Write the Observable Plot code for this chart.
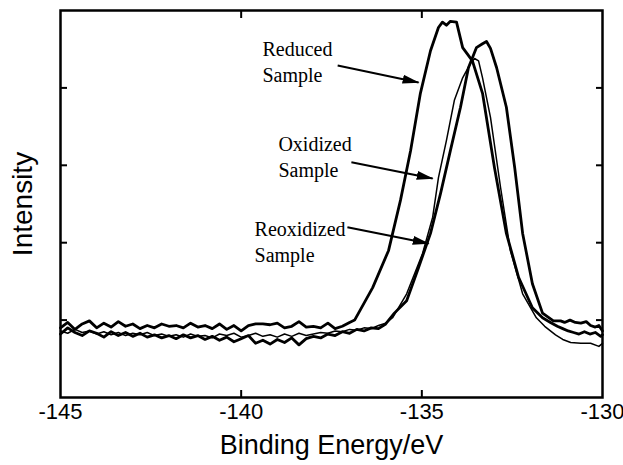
<!DOCTYPE html>
<html>
<head>
<meta charset="utf-8">
<script src="https://cdn.jsdelivr.net/npm/d3@7"></script>
<script src="https://cdn.jsdelivr.net/npm/@observablehq/plot@0.6"></script>
<style>
  html, body { margin: 0; padding: 0; background: #fff; }
  #chart { width: 623px; height: 465px; }
</style>
</head>
<body>
<div id="chart"></div>
<script>
// ---- Data (binding energy in eV, intensity in arbitrary units) ----
const xTicks = [-145, -140, -135, -130];
const xInnerTicks = [-140, -135];
const yTicks = [1, 2, 3, 4];

const reducedE = [
  -145.0, -144.8, -144.6, -144.4, -144.2, -144.0, -143.8, -143.6, -143.4, -143.2,
  -143.0, -142.8, -142.6, -142.4, -142.2, -142.0, -141.8, -141.6, -141.4, -141.2,
  -141.0, -140.8, -140.6, -140.4, -140.2, -140.0, -139.8, -139.6, -139.4, -139.2,
  -139.0, -138.8, -138.6, -138.4, -138.2, -138.0, -137.8, -137.6, -137.4, -137.2,
  -137.0, -136.86, -136.36, -135.92, -135.59, -135.31, -135.04, -134.76, -134.54, -134.43,
  -134.32, -134.21, -134.04, -133.87, -133.60, -133.32, -132.99, -132.66, -132.32, -131.94,
  -131.66, -131.44, -131.25, -131.1, -130.95, -130.8, -130.65, -130.5, -130.35, -130.2,
  -130.05, -130.0
];
const reducedI = [
  0.90, 0.97, 0.88, 0.95, 0.99, 0.90, 0.96, 0.91, 0.98, 0.92,
  0.95, 0.89, 0.93, 0.90, 0.95, 0.92, 0.93, 0.90, 0.96, 0.91,
  0.93, 0.89, 0.95, 0.88, 0.93, 0.86, 0.93, 0.95, 0.95, 0.94,
  0.96, 0.90, 0.92, 0.98, 0.91, 0.92, 0.90, 0.96, 0.89, 0.92,
  0.97, 1.00, 1.42, 1.90, 2.55, 3.19, 3.93, 4.48, 4.78, 4.85,
  4.81, 4.86, 4.85, 4.52, 4.35, 3.93, 2.97, 2.12, 1.55, 1.16,
  1.03, 0.97, 0.92, 0.89, 0.86, 0.84, 0.82, 0.85, 0.82, 0.84,
  0.79, 0.81
];

const oxidizedE = [
  -145.0, -144.8, -144.6, -144.4, -144.2, -144.0, -143.8, -143.6, -143.4, -143.2,
  -143.0, -142.8, -142.6, -142.4, -142.2, -142.0, -141.8, -141.6, -141.4, -141.2,
  -141.0, -140.8, -140.6, -140.4, -140.2, -140.0, -139.8, -139.6, -139.4, -139.2,
  -139.0, -138.8, -138.6, -138.4, -138.2, -138.0, -137.8, -137.6, -137.4, -137.2,
  -137.0, -136.8, -136.6, -136.4, -136.2, -136.0, -135.81, -135.42, -134.98, -134.70,
  -134.54, -134.32, -134.10, -133.87, -133.65, -133.54, -133.43, -133.32, -133.10, -132.82,
  -132.55, -132.21, -131.83, -131.6, -131.3, -131.1, -130.88, -130.6, -130.33, -130.1,
  -130.0
];
const oxidizedI = [
  0.86, 0.83, 0.88, 0.84, 0.86, 0.82, 0.85, 0.81, 0.84, 0.80,
  0.83, 0.81, 0.84, 0.80, 0.82, 0.79, 0.81, 0.78, 0.82, 0.79,
  0.80, 0.77, 0.82, 0.80, 0.83, 0.78, 0.80, 0.83, 0.79, 0.81,
  0.78, 0.82, 0.79, 0.83, 0.80, 0.82, 0.84, 0.83, 0.86, 0.85,
  0.88, 0.87, 0.90, 0.89, 0.93, 0.96, 1.03, 1.34, 1.86, 2.33,
  2.84, 3.32, 3.84, 4.13, 4.32, 4.38, 4.35, 4.13, 3.62, 2.71,
  1.90, 1.34, 1.03, 0.92, 0.81, 0.75, 0.71, 0.70, 0.70, 0.66,
  0.70
];

const reoxE = [
  -145.0, -144.8, -144.6, -144.4, -144.2, -144.0, -143.8, -143.6, -143.4, -143.2,
  -143.0, -142.8, -142.6, -142.4, -142.2, -142.0, -141.8, -141.6, -141.4, -141.2,
  -141.0, -140.8, -140.6, -140.4, -140.2, -140.0, -139.8, -139.6, -139.4, -139.2,
  -139.0, -138.8, -138.6, -138.4, -138.2, -138.0, -137.8, -137.6, -137.4, -137.2,
  -137.0, -136.8, -136.6, -136.4, -136.2, -136.0, -135.76, -135.42, -135.09, -134.76,
  -134.48, -134.21, -133.93, -133.71, -133.49, -133.32, -133.21, -133.10, -132.93, -132.66,
  -132.43, -132.21, -131.94, -131.66, -131.36, -131.16, -131.05, -130.9, -130.75, -130.6,
  -130.45, -130.33, -130.2, -130.1, -130.0
];
const reoxI = [
  0.82, 0.90, 0.84, 0.80, 0.86, 0.83, 0.78, 0.85, 0.80, 0.84,
  0.79, 0.83, 0.78, 0.81, 0.77, 0.80, 0.76, 0.81, 0.77, 0.80,
  0.75, 0.79, 0.74, 0.78, 0.72, 0.76, 0.80, 0.70, 0.74, 0.69,
  0.75, 0.71, 0.77, 0.68, 0.76, 0.79, 0.77, 0.82, 0.80, 0.85,
  0.83, 0.88, 0.86, 0.90, 0.89, 0.95, 1.09, 1.25, 1.68, 2.12,
  2.64, 3.19, 3.75, 4.26, 4.52, 4.57, 4.60, 4.51, 4.26, 3.75,
  2.97, 2.12, 1.47, 1.09, 0.99, 0.99, 0.97, 1.00, 0.97, 0.96,
  0.98, 0.93, 0.91, 0.93, 0.86
];

// Annotations (label text, label anchor, arrow from -> to), in data units
const labelText = ["Reduced\nSample", "Oxidized\nSample", "Reoxidized\nSample"];
const labelX = [-139.41, -138.97, -139.63];
const labelY = [4.35, 3.12, 2.03];
const arrowX1 = [-137.33, -136.95, -137.06];
const arrowY1 = [4.29, 3.04, 2.20];
const arrowX2 = [-135.09, -134.70, -134.81];
const arrowY2 = [4.07, 2.83, 1.99];

// ---- Build tables ----
const series = [
  {name: "Reduced", E: reducedE, I: reducedI, w: 2.8},
  {name: "Oxidized", E: oxidizedE, I: oxidizedI, w: 1.5},
  {name: "Reoxidized", E: reoxE, I: reoxI, w: 2.8}
];
const labels = labelText.map((t, i) => ({t, x: labelX[i], y: labelY[i]}));
const arrows = arrowX1.map((x1, i) => ({x1, y1: arrowY1[i], x2: arrowX2[i], y2: arrowY2[i]}));

function solidArrow(color) {
  const m = d3.create("svg:marker")
    .attr("viewBox", "-16 -5 17 10")
    .attr("markerWidth", 17)
    .attr("markerHeight", 10)
    .attr("markerUnits", "userSpaceOnUse")
    .attr("orient", "auto")
    .attr("refX", 0).attr("refY", 0);
  m.append("path").attr("d", "M-16,-4.5L1,0L-16,4.5Z").attr("fill", color).attr("stroke", "none");
  return m.node();
}

const lineMarks = series.map(s =>
  Plot.line(s.E.map((e, i) => ({e, v: s.I[i]})), {
    x: "e", y: "v", stroke: "black", strokeWidth: s.w, strokeLinejoin: "round"
  })
);

const chart = Plot.plot({
  width: 623,
  height: 465,
  marginLeft: 60,
  marginRight: 21,
  marginTop: 10,
  marginBottom: 68,
  style: {fontFamily: "'Liberation Sans', Arial, Helvetica, sans-serif", color: "black", background: "white", overflow: "visible"},
  x: {domain: [-145, -130]},
  y: {domain: [0, 5]},
  marks: [
    ...lineMarks,
    // inward ticks
    Plot.axisX(xInnerTicks, {anchor: "bottom", tickSize: -7, strokeWidth: 2, text: null, label: null}),
    Plot.axisX(xInnerTicks, {anchor: "top", tickSize: -7, strokeWidth: 2, text: null, label: null}),
    Plot.axisY(yTicks, {anchor: "left", tickSize: -7, strokeWidth: 2, text: null, label: null}),
    Plot.axisY(yTicks, {anchor: "right", tickSize: -7, strokeWidth: 2, text: null, label: null}),
    // tick labels (plain hyphen-minus as in the original)
    Plot.axisX(xTicks, {anchor: "bottom", tickSize: 0, tickPadding: 6, fontSize: 22, label: null, tickFormat: d => String(d)}),
    Plot.text(["Binding Energy/eV"], {frameAnchor: "bottom", dy: 48, textAnchor: "middle", lineAnchor: "middle",
      text: d => d, fontSize: 27, fill: "black"}),
    Plot.text(["Intensity"], {frameAnchor: "left", dx: -37, rotate: -90, textAnchor: "middle", lineAnchor: "middle",
      text: d => d, fontSize: 28, fill: "black"}),
    // annotations
    Plot.text(labels, {x: "x", y: "y", text: "t", textAnchor: "start", lineAnchor: "middle", lineHeight: 1.3,
      fontSize: 20, fontFamily: "'Liberation Serif', 'Times New Roman', serif", fill: "black"}),
    Plot.link(arrows, {x1: "x1", y1: "y1", x2: "x2", y2: "y2", stroke: "black", strokeWidth: 2, markerEnd: solidArrow}),
    Plot.frame({stroke: "black", strokeWidth: 2.5})
  ]
});
document.getElementById("chart").appendChild(chart);
</script>
</body>
</html>
